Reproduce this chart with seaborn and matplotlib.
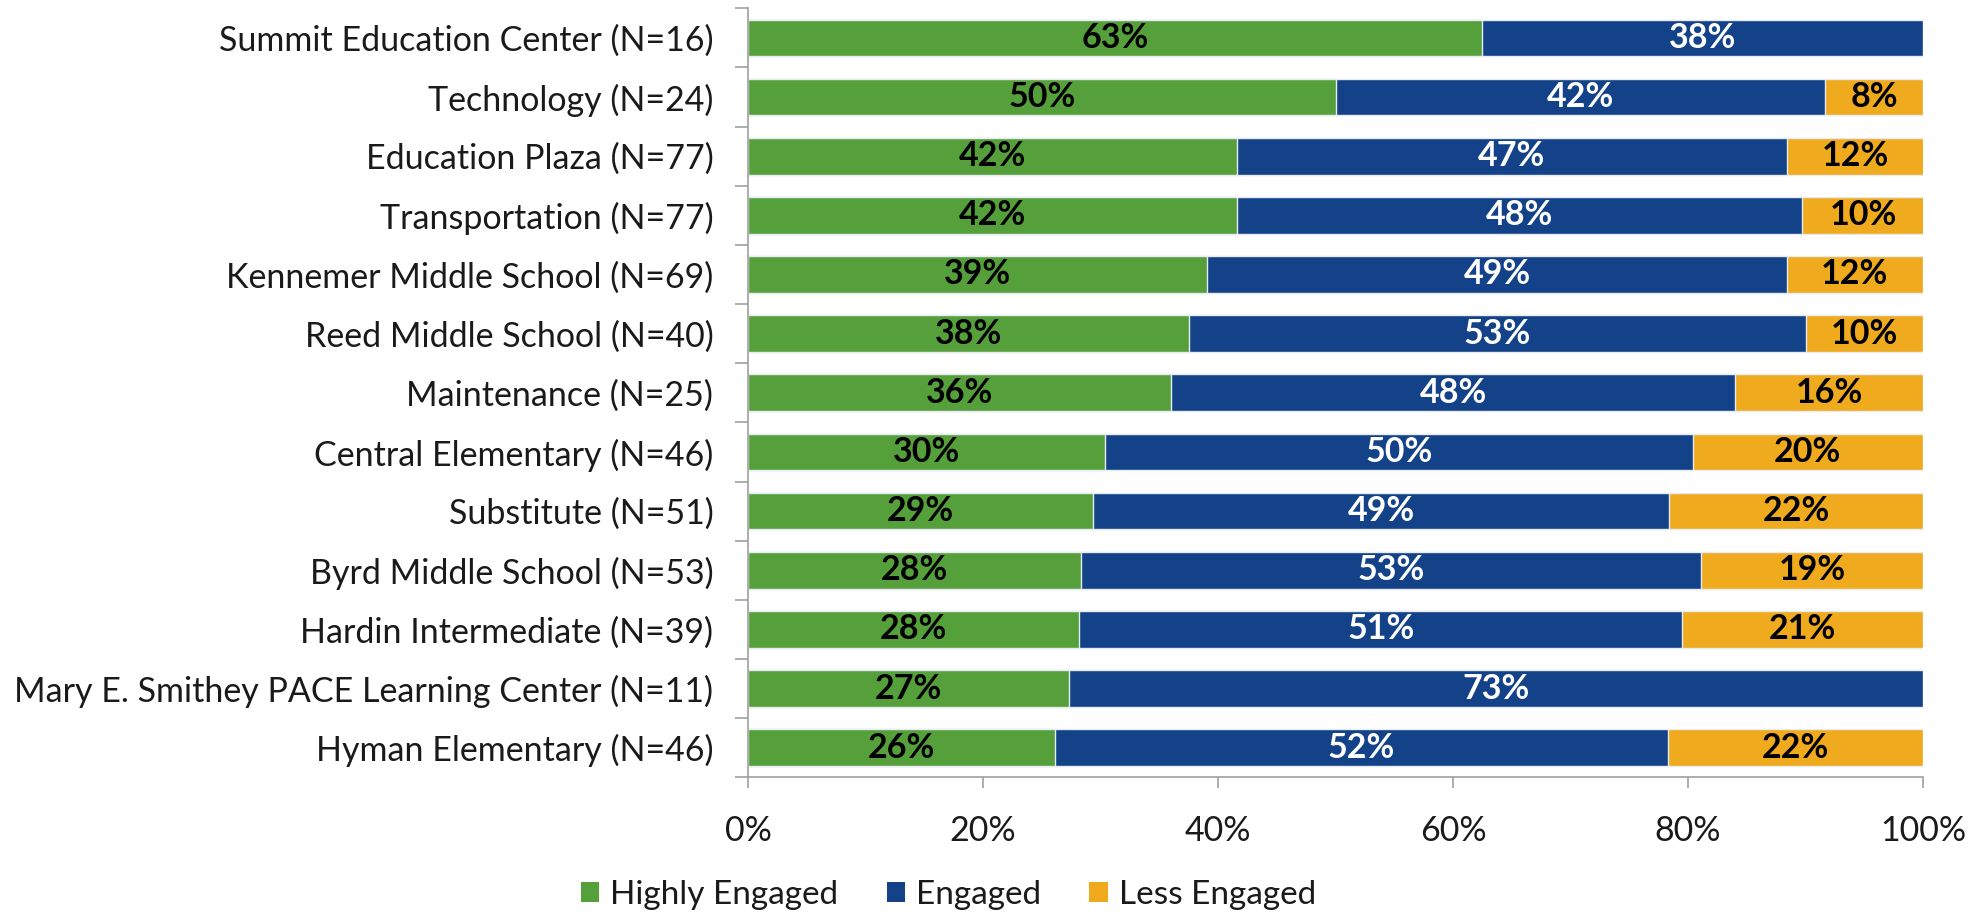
import numpy as np
import pandas as pd
import matplotlib
matplotlib.use("Agg")
import matplotlib.pyplot as plt
import seaborn as sns
from matplotlib.patches import Patch
from matplotlib.ticker import FixedLocator, FuncFormatter

schools = [
    "Summit Education Center (N=16)",
    "Technology (N=24)",
    "Education Plaza (N=77)",
    "Transportation (N=77)",
    "Kennemer Middle School (N=69)",
    "Reed Middle School (N=40)",
    "Maintenance (N=25)",
    "Central Elementary (N=46)",
    "Substitute (N=51)",
    "Byrd Middle School (N=53)",
    "Hardin Intermediate (N=39)",
    "Mary E. Smithey PACE Learning Center (N=11)",
    "Hyman Elementary (N=46)",
]
highly_engaged = [62.5, 50.0, 41.6, 41.6, 39.1, 37.5, 36.0, 30.4, 29.4, 28.3, 28.2, 27.3, 26.1]
engaged = [37.5, 41.7, 46.8, 48.1, 49.3, 52.5, 48.0, 50.0, 49.0, 52.8, 51.3, 72.7, 52.2]
less_engaged = [0.0, 8.3, 11.7, 10.4, 11.6, 10.0, 16.0, 19.6, 21.6, 18.9, 20.5, 0.0, 21.7]
series_names = ["Highly Engaged", "Engaged", "Less Engaged"]
x_ticks = [0, 20, 40, 60, 80, 100]

colors = ["#55A03A", "#134288", "#F0AA1E"]
label_colors = ["black", "white", "black"]

sns.set_style("white")
plt.rcParams["font.family"] = ["Lato", "DejaVu Sans"]

h = np.array(highly_engaged)
e = np.array(engaged)
l = np.array(less_engaged)
cum1 = h
cum2 = h + e
cum3 = h + e + l
df = pd.DataFrame({"school": schools, "c1": cum1, "c2": cum2, "c3": cum3})

fig = plt.figure(figsize=(19.8, 9.14), dpi=100)
ax = fig.add_axes([748 / 1980, 1 - 777.3 / 914, (1923 - 748) / 1980, (777.3 - 8.3) / 914])

for col, c in zip(["c3", "c2", "c1"], colors[::-1]):
    sns.barplot(data=df, x=col, y="school", order=schools, color=c, saturation=1,
                width=0.62, edgecolor="#E8ECF2", linewidth=1.0, orient="h", ax=ax)

starts = [np.zeros_like(h), cum1, cum2]
vals = [h, e, l]
for s_arr, v_arr, lc in zip(starts, vals, label_colors):
    for i, (s, v) in enumerate(zip(s_arr, v_arr)):
        if v > 0:
            ax.text(s + v / 2, i, f"{int(np.floor(v + 0.5))}%", ha="center", va="center",
                    color=lc, fontsize=24.5, fontweight="bold")

ax.set_xlim(0, 100)
ax.set_ylim(len(schools) - 0.5, -0.5)
ax.set_xlabel("")
ax.set_ylabel("")
ax.xaxis.set_major_locator(FixedLocator(x_ticks))
ax.xaxis.set_major_formatter(FuncFormatter(lambda v, p: f"{v:.0f}%"))
ax.yaxis.set_minor_locator(FixedLocator(np.arange(-0.5, len(schools), 1.0)))

spine_c = "#A0A0A0"
for side in ["top", "right"]:
    ax.spines[side].set_visible(False)
for side in ["left", "bottom"]:
    ax.spines[side].set_color(spine_c)
    ax.spines[side].set_linewidth(1.2)

ax.tick_params(axis="y", which="major", length=0, pad=25, labelsize=24.5, labelcolor="#1a1a1a")
ax.tick_params(axis="y", which="minor", left=True, length=9.5, width=1.2, color=spine_c)
ax.tick_params(axis="x", which="major", bottom=True, length=8, width=1.2, color=spine_c,
               direction="out", pad=19, labelsize=24.5, labelcolor="#1a1a1a")

handles = [Patch(facecolor=c, edgecolor="none") for c in colors]
fig.legend(handles, series_names, loc="center", bbox_to_anchor=(0.479, 1 - 895 / 914),
           ncol=3, frameon=False, fontsize=24, handlelength=0.55, handleheight=0.55,
           handletextpad=0.33, columnspacing=1.45, labelcolor="#1a1a1a")

fig.savefig("out.png", dpi=100)
